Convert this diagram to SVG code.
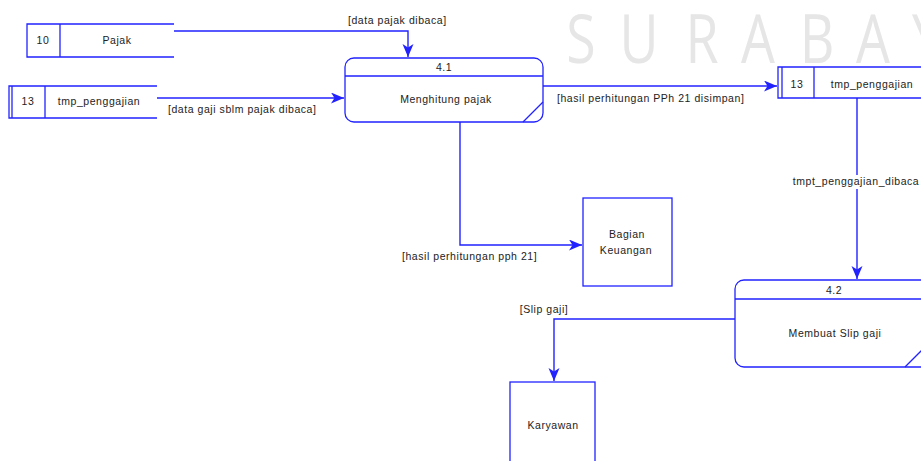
<svg xmlns="http://www.w3.org/2000/svg" width="921" height="461" viewBox="0 0 921 461">
  <defs>
    <style>
      .shape { fill: #ffffff; stroke: #2222ff; stroke-width: 1.3; }
      .line { fill: none; stroke: #2222ff; stroke-width: 1.3; }
      .flow { fill: none; stroke: #2222ff; stroke-width: 1.4; marker-end: url(#arrow); }
      .t { font-family: "Liberation Sans", Arial, sans-serif; font-size: 10.5px; letter-spacing: 0.55px; fill: #222222; }
      .c { text-anchor: middle; }
      .mark { font-family: "Open Sans", "Noto Sans", sans-serif; font-size: 67px; fill: #e6e6e6; text-anchor: middle; }
    </style>
    <marker id="arrow" markerUnits="userSpaceOnUse" markerWidth="14" markerHeight="12" refX="13" refY="5.5" orient="auto">
      <path d="M0,0 L13,5.5 L0,11 L3.5,5.5 Z" fill="#2222ff"/>
    </marker>
  </defs>

  <rect width="921" height="461" fill="#ffffff"/>

  <!-- watermark letters -->
  <g id="watermark">
    <text class="mark" transform="translate(581,63) scale(0.8,1)">S</text>
    <text class="mark" transform="translate(639,63) scale(0.8,1)">U</text>
    <text class="mark" transform="translate(702,63) scale(0.8,1)">R</text>
    <text class="mark" transform="translate(758,63) scale(0.8,1)">A</text>
    <text class="mark" transform="translate(817,63) scale(0.8,1)">B</text>
    <text class="mark" transform="translate(873,63) scale(0.8,1)">A</text>
    <text class="mark" transform="translate(927,63) scale(0.8,1)">Y</text>
  </g>

  <!-- data flows -->
  <g id="connectors">
    <path class="flow" d="M174,31 H408 V57"/>
    <path class="flow" d="M157,98 H344"/>
    <path class="flow" d="M543,86 H777"/>
    <path class="flow" d="M857,98 V279"/>
    <path class="flow" d="M460,122 V245 H582"/>
    <path class="flow" d="M735,319 H554 V381"/>

    <text class="t" x="348" y="24">[data pajak dibaca]</text>
    <text class="t" x="168" y="113">[data gaji sblm pajak dibaca]</text>
    <text class="t" x="557" y="102">[hasil perhitungan PPh 21 disimpan]</text>
    <rect x="790" y="175" width="130" height="14" fill="#ffffff"/>
    <text class="t c" x="856" y="185">tmpt_penggajian_dibaca</text>
    <text class="t" x="402" y="260">[hasil perhitungan pph 21]</text>
    <text class="t c" x="544" y="313">[Slip gaji]</text>
  </g>

  <!-- data store 10 Pajak -->
  <g id="store-pajak">
    <path class="line" d="M174,24 H27 V57 H174 M60,24 V57"/>
    <text class="t c" x="43" y="44">10</text>
    <text class="t c" x="117" y="44">Pajak</text>
  </g>

  <!-- data store 13 tmp_penggajian (left) -->
  <g id="store-penggajian-left">
    <path class="line" d="M157,86 H9 V118 H157 M12,86 V118 M45,86 V118"/>
    <text class="t c" x="28" y="105">13</text>
    <text class="t c" x="99" y="105">tmp_penggajian</text>
  </g>

  <!-- data store 13 tmp_penggajian (right) -->
  <g id="store-penggajian-right">
    <path class="line" d="M925,67 H778 V98 H925 M782,67 V98 M814,67 V98"/>
    <text class="t c" x="797" y="88">13</text>
    <text class="t c" x="872" y="88">tmp_penggajian</text>
  </g>

  <!-- process 4.1 -->
  <g id="proc-4-1">
    <rect class="shape" x="345" y="58" width="198" height="64" rx="9" ry="9"/>
    <path class="line" d="M345,76 H543 M523,122 L543,102"/>
    <text class="t c" x="444" y="71">4.1</text>
    <text class="t c" x="446" y="103">Menghitung pajak</text>
  </g>

  <!-- process 4.2 -->
  <g id="proc-4-2">
    <rect class="shape" x="735" y="280" width="195" height="87" rx="9" ry="9"/>
    <path class="line" d="M735,299 H930 M905,367 L930,342"/>
    <text class="t c" x="834" y="294">4.2</text>
    <text class="t c" x="835" y="337">Membuat Slip gaji</text>
  </g>

  <!-- external entity Bagian Keuangan -->
  <g id="ent-keuangan">
    <rect class="shape" x="583" y="198" width="89" height="88"/>
    <text class="t c" x="627" y="238">Bagian</text>
    <text class="t c" x="626" y="254">Keuangan</text>
  </g>

  <!-- external entity Karyawan -->
  <g id="ent-karyawan">
    <rect class="shape" x="510" y="382" width="85" height="95"/>
    <text class="t c" x="553" y="429">Karyawan</text>
  </g>
</svg>
